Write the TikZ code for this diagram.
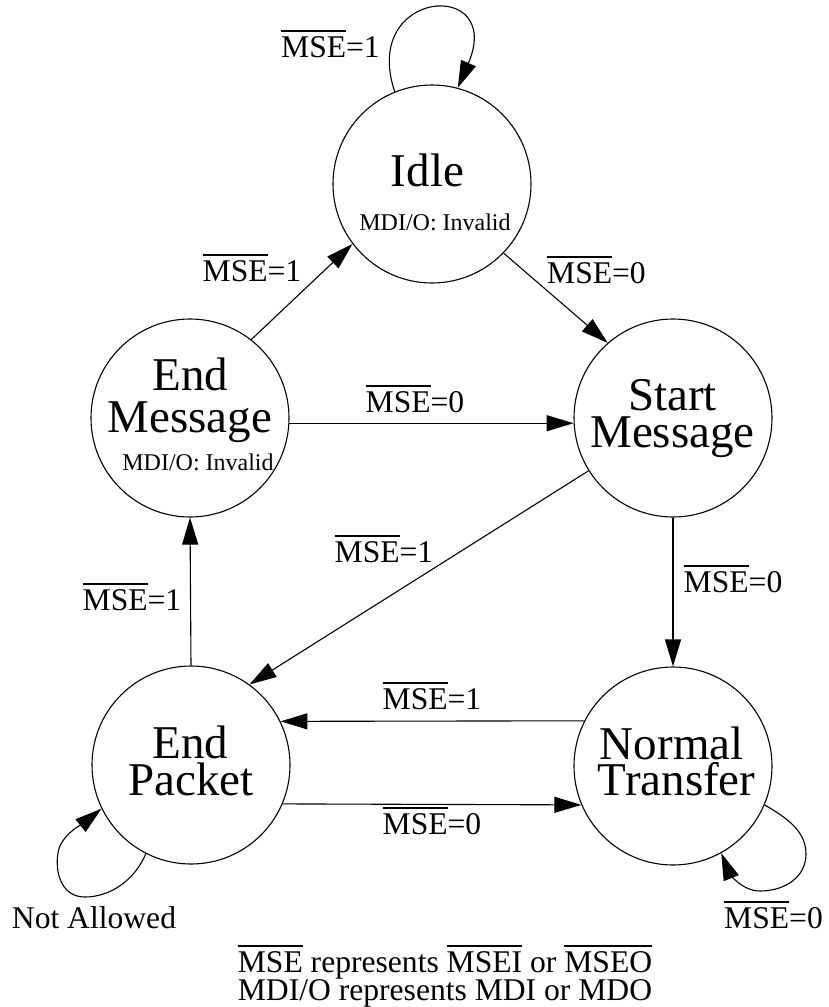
\documentclass[tikz,border=0pt]{standalone}
\usepackage{fontspec}
\setmainfont{Liberation Serif}
\usetikzlibrary{arrows.meta}
% overlined signal name
\newcommand\ovl[1]{\leavevmode\vbox{\hrule height 1.2pt\kern 4.5pt\hbox{#1}}}
\begin{document}
\begin{tikzpicture}[x=1pt,y=-1pt,
  state/.style={circle,draw,line width=1.1pt,minimum size=198pt,inner sep=0pt},
  big/.style={font=\fontsize{47}{47}\selectfont,inner sep=0pt,anchor=base},
  small/.style={font=\fontsize{24}{24}\selectfont,inner sep=0pt,anchor=base},
  lbl/.style={font=\fontsize{31.6}{31.6}\selectfont,inner sep=0pt,anchor=base},
  edge/.style={line width=1.1pt,-{Triangle[length=27pt,width=16pt]}}]
\useasboundingbox (0,0) rectangle (828,1007);

% states
\node[state] (idle)   at (432,184) {};
\node[state] (start)  at (673,418) {};
\node[state] (endmsg) at (190,418) {};
\node[state] (endpkt) at (191,765) {};
\node[state] (normal) at (673,766) {};

% state names
\node[big]   (idleA)   at (427.5,186) {Idle};
\node[small] (idleB)   at (435,230)   {MDI/O: Invalid};
\node[big]   (startA)  at (672.5,410) {Start};
\node[big]   (startB)  at (672.5,447) {Message};
\node[big]   (endmsgA) at (190.5,390) {End};
\node[big]   (endmsgB) at (190,432)   {Message};
\node[small] (endmsgC) at (198,470)   {MDI/O: Invalid};
\node[big]   (endpktA) at (190.5,758) {End};
\node[big]   (endpktB) at (191,795)   {Packet};
\node[big]   (normalA) at (671.7,759) {Normal};
\node[big]   (normalB) at (676.7,795) {Transfer};

% transitions
\draw[edge] (idle.112) .. controls (360,-12) and (505,-22) .. (idle.75);
\draw[edge] (idle.-44) -- (start.131);
\draw[edge] (endmsg.52) -- (idle.217);
\draw[edge] (endmsg.-3) -- (start.183);
\draw[edge] (start.212) -- (endpkt.54);
\draw[edge] (start.south) -- (normal.north);
\draw[edge] (endpkt.north) -- (endmsg.south);
\draw[edge] (normal.153) -- (endpkt.26);
\draw[edge] (endpkt.-23) -- (normal.203);
\draw[edge] (endpkt.243) .. controls (135,880) and (110,897) .. (85,897)
  .. controls (60,897) and (55,870) .. (58,853)
  .. controls (60,835) and (85,822) .. (endpkt.206);
\draw[edge] (normal.-23) .. controls (785,817) and (806,830) .. (806,854)
  .. controls (806,877) and (785,891) .. (760,891)
  .. controls (740,891) and (728,870) .. (normal.299);

% transition conditions
\node[lbl] (l1)  at (330.5,57) {\ovl{MSE}=1};
\node[lbl] (l2)  at (252,281)  {\ovl{MSE}=1};
\node[lbl] (l3)  at (596.5,283) {\ovl{MSE}=0};
\node[lbl] (l4)  at (415,412)  {\ovl{MSE}=0};
\node[lbl] (l5)  at (384,562)  {\ovl{MSE}=1};
\node[lbl] (l6)  at (132,610)  {\ovl{MSE}=1};
\node[lbl] (l7)  at (733,592)  {\ovl{MSE}=0};
\node[lbl] (l8)  at (432,709)  {\ovl{MSE}=1};
\node[lbl] (l9)  at (432,834)  {\ovl{MSE}=0};
\node[lbl] (l10) at (773.5,928) {\ovl{MSE}=0};
\node[lbl] (na)  at (94,928)   {Not Allowed};

% legend
\node[lbl] (n1) at (445,972)  {\ovl{MSE} represents \ovl{MSEI} or \ovl{MSEO}};
\node[lbl] (n2) at (445,1000) {MDI/O represents MDI or MDO};
\end{tikzpicture}
\end{document}
